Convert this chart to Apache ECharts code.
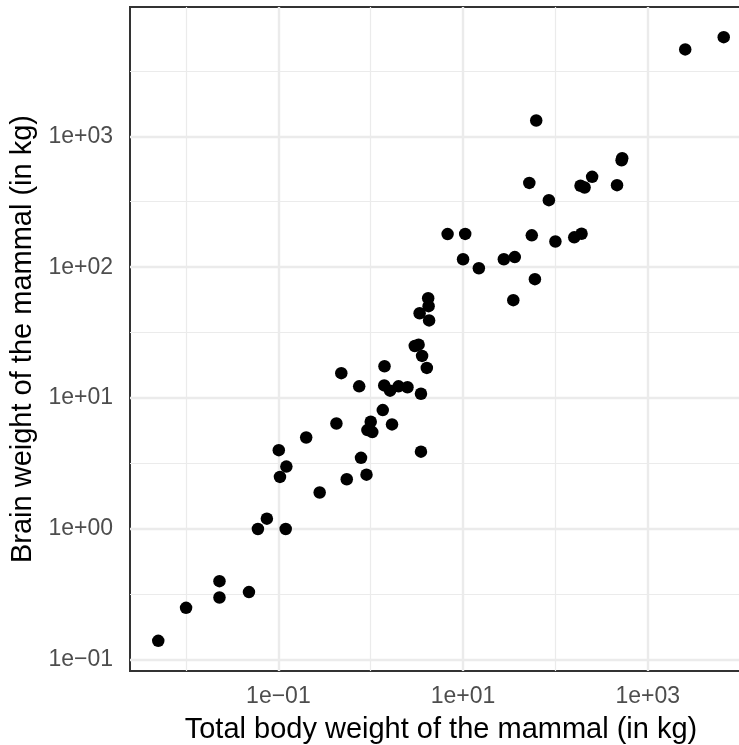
<!DOCTYPE html>
<html>
<head>
<meta charset="utf-8">
<script src="https://cdn.jsdelivr.net/npm/echarts@6/dist/echarts.min.js"></script>
<style>
html,body{margin:0;padding:0;background:#fff;}
#chart{width:739px;height:745px;}
</style>
</head>
<body>
<div id="chart"></div>
<script>
// MASS::mammals — body weight (kg) and brain weight
const mammalNames = ["Arctic fox","Owl monkey","Mountain beaver","Cow","Grey wolf","Goat","Roe deer","Guinea pig","Verbet","Chinchilla","Ground squirrel","Arctic ground squirrel","African giant pouched rat","Lesser short-tailed shrew","Star-nosed mole","Nine-banded armadillo","Tree hyrax","N.A. opossum","Asian elephant","Big brown bat","Donkey","Horse","European hedgehog","Patas monkey","Cat","Galago","Genet","Giraffe","Gorilla","Grey seal","Rock hyrax-a","Human","African elephant","Water opossum","Rhesus monkey","Kangaroo","Yellow-bellied marmot","Golden hamster","Mouse","Little brown bat","Slow loris","Okapi","Rabbit","Sheep","Jaguar","Chimpanzee","Baboon","Desert hedgehog","Giant armadillo","Rock hyrax-b","Raccoon","Rat","E. American mole","Mole rat","Musk shrew","Pig","Echidna","Brazilian tapir","Tenrec","Phalanger","Tree shrew","Red fox"];
const bodyWeight = [3.385,0.48,1.35,465,36.33,27.66,14.83,1.04,4.19,0.425,0.101,0.92,1,0.005,0.06,3.5,2,1.7,2547,0.023,187.1,521,0.785,10,3.3,0.2,1.41,529,207,85,0.75,62,6654,3.5,6.8,35,4.05,0.12,0.023,0.01,1.4,250,2.5,55.5,100,52.16,10.55,0.55,60,3.6,4.288,0.28,0.075,0.122,0.048,192,3,160,0.9,1.62,0.104,4.235];
const brainWeight = [44.5,15.5,8.1,423,119.5,115,98.2,5.5,58,6.4,4,5.7,6.6,0.14,1,10.8,12.3,6.3,4603,0.3,419,655,3.5,115,25.6,5,17.5,680,406,325,12.3,1320,5712,3.9,179,56,17,1,0.4,0.25,12.5,490,12.1,175,157,440,179.5,2.4,81,21,39.2,1.9,1.2,3,0.33,180,25,169,2.6,11.4,2.5,50.4];

// tick positions (log10 exponents) and minor gridline positions
const xTickExp = [-1, 1, 3];
const xMinorExp = [-2, 0, 2, 4];
const yTickExp = [-1, 0, 1, 2, 3];
const yMinorExp = [-0.5, 0.5, 1.5, 2.5, 3.5];

const xTitle = "Total body weight of the mammal (in kg)";
const yTitle = "Brain weight of the mammal (in kg)";

// ggplot-like 5% expansion on log scale
function expandRange(arr) {
  const l = arr.map(v => Math.log10(v));
  const lo = Math.min(...l), hi = Math.max(...l), d = (hi - lo) * 0.05;
  return [lo - d, hi + d];
}
const xr = expandRange(bodyWeight);
const yr = expandRange(brainWeight);

const points = bodyWeight.map((b, i) => [Math.log10(b), Math.log10(brainWeight[i])]);

function fmt(v) {
  const e = Math.round(v);
  const s = String(Math.abs(e)).padStart(2, '0');
  return '1e' + (e < 0 ? '\u2212' : '+') + s;
}

const majorColor = '#ebebeb';
const gridLines = [];
xTickExp.forEach(v => gridLines.push({ xAxis: v, lineStyle: { color: majorColor, width: 2.4, type: 'solid' } }));
xMinorExp.forEach(v => gridLines.push({ xAxis: v, lineStyle: { color: majorColor, width: 1.2, type: 'solid' } }));
yTickExp.forEach(v => gridLines.push({ yAxis: v, lineStyle: { color: majorColor, width: 2.4, type: 'solid' } }));
yMinorExp.forEach(v => gridLines.push({ yAxis: v, lineStyle: { color: majorColor, width: 1.2, type: 'solid' } }));

const font = '"Liberation Sans", Arial, Helvetica, sans-serif';
const chart = echarts.init(document.getElementById('chart'), null, { renderer: 'canvas' });
chart.setOption({
  animation: false,
  backgroundColor: '#ffffff',
  grid: { left: 130, top: 7, right: -13, bottom: 74, containLabel: false, outerBoundsMode: 'none', show: true, borderColor: '#333333', borderWidth: 2, backgroundColor: 'transparent' },
  xAxis: {
    type: 'value', min: xr[0], max: xr[1],
    axisLine: { show: false },
    axisTick: { show: true, length: 7, inside: false, customValues: xTickExp, lineStyle: { color: '#333333', width: 2 } },
    axisLabel: { show: true, customValues: xTickExp, formatter: fmt, color: '#4d4d4d', fontSize: 23, fontFamily: font, margin: 14 },
    splitLine: { show: false }, minorSplitLine: { show: false },
    name: xTitle, nameLocation: 'middle', nameGap: 44,
    nameTextStyle: { color: '#000000', fontSize: 29, fontFamily: font }
  },
  yAxis: {
    type: 'value', min: yr[0], max: yr[1],
    axisLine: { show: false },
    axisTick: { show: true, length: 7, inside: false, customValues: yTickExp, lineStyle: { color: '#333333', width: 2 } },
    axisLabel: { show: true, customValues: yTickExp, formatter: fmt, color: '#4d4d4d', fontSize: 23, fontFamily: font, margin: 17 },
    splitLine: { show: false }, minorSplitLine: { show: false },
    name: yTitle, nameLocation: 'middle', nameGap: 90, nameRotate: 90,
    nameTextStyle: { color: '#000000', fontSize: 29, fontFamily: font }
  },
  series: [
    {
      type: 'scatter', z: 1, silent: true, symbolSize: 0, data: points.slice(0, 1),
      markLine: { silent: true, symbol: ['none', 'none'], label: { show: false }, z: 1, animation: false, data: gridLines }
    },
    {
      type: 'scatter', z: 3, data: points, symbol: 'circle', symbolSize: 12.5,
      itemStyle: { color: '#000000', opacity: 1 }
    }
  ]
});
</script>
</body>
</html>
